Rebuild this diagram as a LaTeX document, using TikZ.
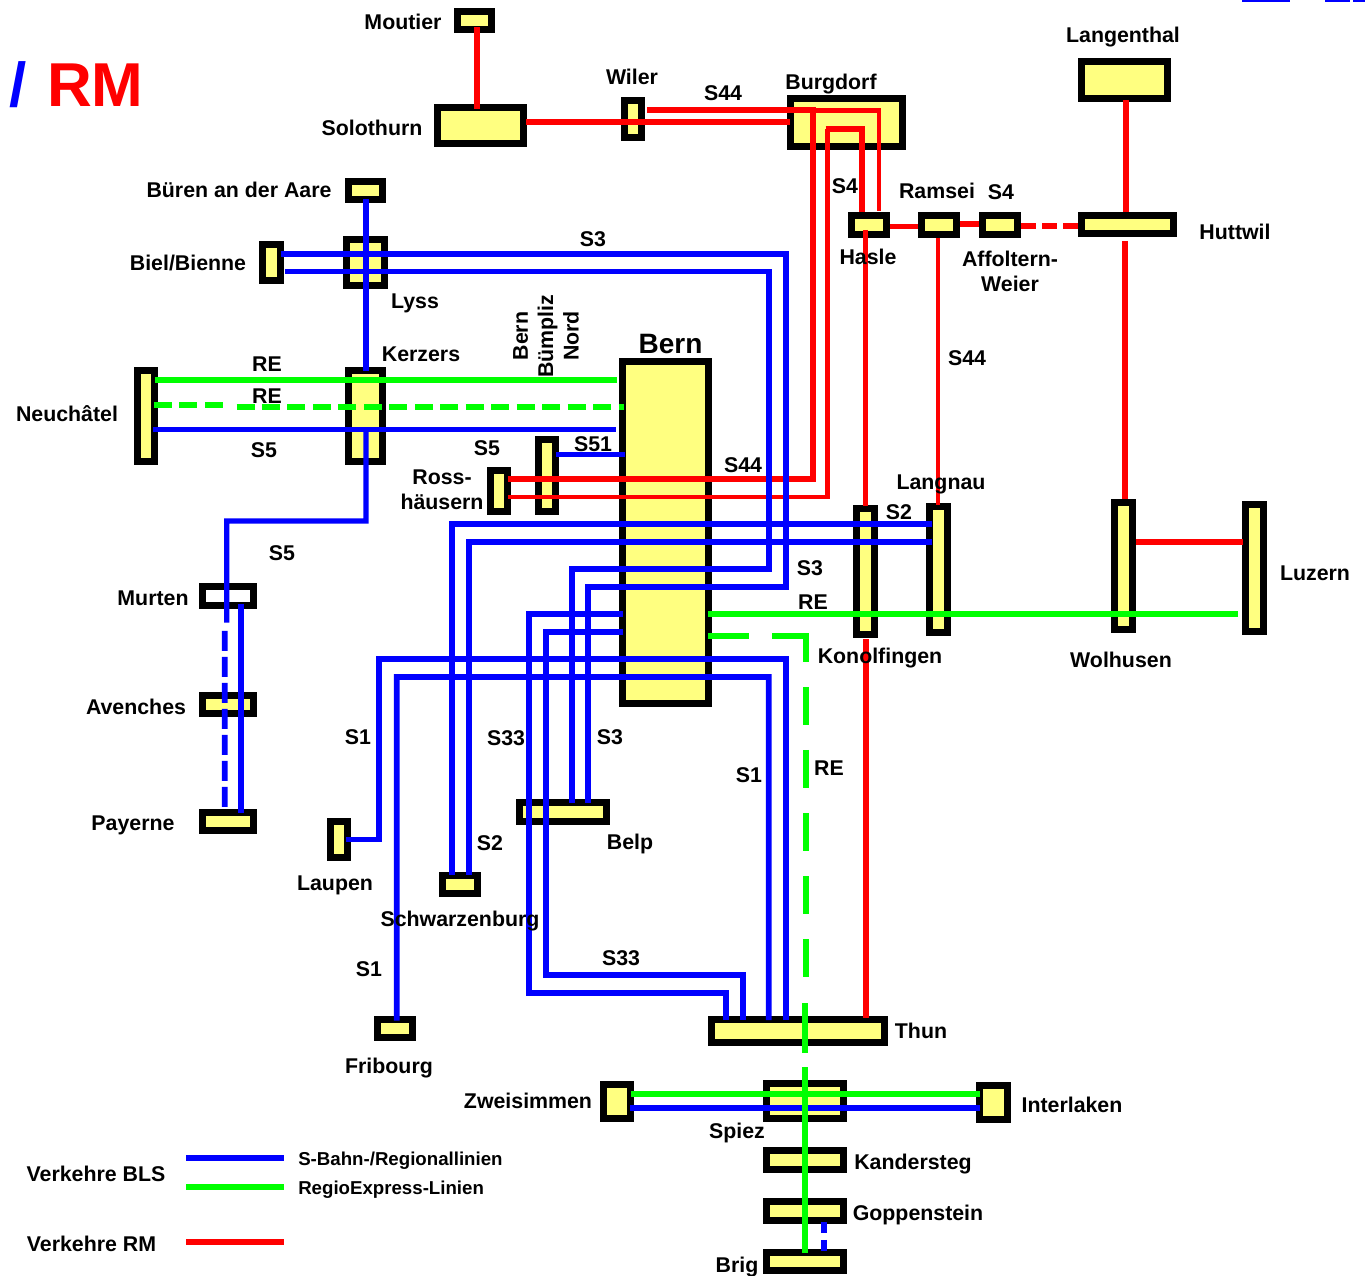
\documentclass[tikz,border=0pt]{standalone}
\usepackage{fontspec}
\setmainfont{Liberation Sans}
\usetikzlibrary{calc}
\definecolor{stnfill}{RGB}{255,255,128}
\tikzset{
  stn/.style 2 args={draw=black,line width=5.25pt,fill=stnfill,inner sep=0pt,
    minimum width={(#1-7)*0.75pt},minimum height={(#2-7)*0.75pt}},
  mlbl/.style={font=\bfseries\fontsize{16}{19}\selectfont,align=center,inner sep=0pt},
  lbl/.style={font=\bfseries\fontsize{16}{19}\selectfont,inner sep=0pt,text height=14.4pt,text depth=2.94pt},
  small/.style={font=\bfseries\fontsize{14}{17}\selectfont,inner sep=0pt,text height=12.6pt,text depth=2.58pt},
  redl/.style={draw=red,line width=4.5pt},
  redt/.style={draw=red,line width=3.4pt},
  bluel/.style={draw=blue,line width=4.4pt},
  bluet/.style={draw=blue,line width=4pt},
  greenl/.style={draw=green,line width=4.5pt},
}
\begin{document}
\begin{tikzpicture}[x=0.75pt,y=-0.75pt]
  \useasboundingbox (0,0) rectangle (1365,1276);

  % cut off heading at the top edge
  \fill[blue] (1242,0) rectangle (1290,2);
  \fill[blue] (1325,0) rectangle (1350,2);
  \fill[blue] (1353,0) rectangle (1365,2);

  % stations
  \node[stn={41}{25}] (moutier) at (474.5,20.5) {};
  \node[stn={92.5}{43}] (solothurn) at (480.25,125.5) {};
  \node[stn={24}{44}] (wiler) at (633,119) {};
  \node[stn={119}{55}] (burgdorf) at (846.5,122.5) {};
  \node[stn={92.5}{44}] (langenthal) at (1124.5,80) {};
  \node[stn={41}{25}] (bueren) at (365.5,190.5) {};
  \node[stn={25}{43}] (biel) at (271.5,262.5) {};
  \node[stn={45}{53}] (lyss) at (365.5,262.5) {};
  \node[stn={41.5}{26}] (hasle) at (869,225) {};
  \node[stn={42}{26}] (ramsei) at (938.5,225) {};
  \node[stn={42}{26}] (affoltern) at (1000,225) {};
  \node[stn={98.5}{25}] (huttwil) at (1127.5,224.5) {};
  \node[stn={24.5}{98}] (neuchatel) at (146,416) {};
  \node[stn={41}{98}] (kerzers) at (365.5,416) {};
  \node[stn={93}{349}] (bern) at (665.5,532.5) {};
  \node[stn={24}{79}] (buempliz) at (547,475.5) {};
  \node[stn={24.5}{48}] (rosshaeusern) at (498.75,491) {};
  \node[stn={25}{133}] (konolfingen) at (865.5,571.5) {};
  \node[stn={25}{133}] (langnau) at (938.5,569.5) {};
  \node[stn={25}{134}] (wolhusen) at (1123.5,566) {};
  \node[stn={25}{134}] (luzern) at (1254.5,568) {};
  \node[stn={58}{26},fill=white] (murten) at (228,596) {};
  \node[stn={58}{25}] (avenches) at (228,704.5) {};
  \node[stn={58}{25}] (payerne) at (228,821.5) {};
  \node[stn={24}{43}] (laupen) at (338.75,839.5) {};
  \node[stn={42}{25}] (schwarzenburg) at (460,884.5) {};
  \node[stn={94}{26}] (belp) at (563,812) {};
  \node[stn={42}{25}] (fribourg) at (395,1028.5) {};
  \node[stn={180}{30}] (thun) at (798,1031) {};
  \node[stn={34}{41}] (zweisimmen) at (617,1101.5) {};
  \node[stn={84}{42}] (spiez) at (805,1101) {};
  \node[stn={35}{41}] (interlaken) at (993.5,1102.5) {};
  \node[stn={84}{26}] (kandersteg) at (805,1160) {};
  \node[stn={84}{26}] (goppenstein) at (805,1211) {};
  \node[stn={84}{25}] (brig) at (805,1261.5) {};

  % RM lines
  \draw[redl] ($(moutier)+(2,7)$) -- ($(solothurn)+(-3.75,-16)$);
  \draw[redl] ($(solothurn)+(46,-3.5)$) -- ($(burgdorf)+(-57,-0.5)$);
  \draw[redl] ($(rosshaeusern)+(9,-12)$) -| (812.5,110.5) -- ($(wiler)+(14,-8.5)$);
  \draw[redt] (812.5,110.5) -| ($(hasle)+(10,-14)$);
  \draw[redt] ($(rosshaeusern)+(9,6)$) -| (827.5,129);
  \draw[redl,line width=3.8pt] (825.5,129) -| ($(hasle)+(-7,-13)$);
  \draw[redt] ($(hasle)+(-3.5,5)$) -- ($(konolfingen)+(0,-65)$);
  \draw[redl] ($(konolfingen)+(0,68)$) -- ($(thun)+(67.5,-13)$);
  \draw[redt] ($(hasle)+(21,1.7)$) -- ($(ramsei)+(-21,1.7)$);
  \draw[redl] ($(ramsei)+(21,-0.5)$) -- ($(affoltern)+(-21,-0.5)$);
  \draw[redl,dash pattern=on 11.25pt off 4.5pt] ($(affoltern)+(21,1.5)$) -- ($(huttwil)+(-49,2)$);
  \draw[redt] ($(ramsei)+(-0.7,13)$) -- ($(langnau)+(-0.7,-64)$);
  \draw[redl] ($(langenthal)+(1.5,20)$) -- ($(huttwil)+(-1.5,-12)$);
  \draw[redl] ($(huttwil)+(-2.5,16.5)$) -- ($(wolhusen)+(1.5,-67)$);
  \draw[redl,line width=3.8pt] ($(wolhusen)+(12,-24)$) -- ($(luzern)+(-12,-26)$);

  % BLS lines
  \draw[bluet] ($(bueren)+(0.5,9)$) -- ($(kerzers)+(0.5,-45)$);
  \draw[bluel] ($(biel)+(9,-8.5)$) -| (786,587) -| ($(belp)+(25,-9)$);
  \draw[bluel] ($(biel)+(13,9)$) -| (769,569) -| ($(belp)+(9,-9)$);
  \draw[bluel] ($(neuchatel)+(7,13.5)$) -- ($(bern)+(-50,-103)$);
  \draw[bluet] ($(kerzers)+(0.5,14)$) |- (226.7,521) -- ($(murten)+(-1.3,26.7)$);
  \draw[bluel,dash pattern=on 15pt off 4.5pt] (224.7,631) -- ($(payerne)+(-3.3,-9)$);
  \draw[bluel] ($(murten)+(12.7,8)$) -- ($(payerne)+(12.7,-9)$);
  \draw[bluet] ($(buempliz)+(9,-20.8)$) -- ($(bern)+(-41,-77.8)$);
  \draw[bluel] ($(langnau)+(-6.5,-45.5)$) -| ($(schwarzenburg)+(-8.3,-9.5)$);
  \draw[bluel] ($(langnau)+(-6.5,-27.8)$) -| ($(schwarzenburg)+(8.7,-9.5)$);
  \draw[bluel] ($(bern)+(-42.5,81.8)$) -| (528.7,992.7) -| ($(thun)+(-72,-11)$);
  \draw[bluel] ($(bern)+(-42.5,99.8)$) -| (545.7,974.7) -| ($(thun)+(-55,-11)$);
  \draw[bluel] ($(laupen)+(7,0)$) -| (379,659.3) -| ($(thun)+(-12,-11)$);
  \draw[bluel] ($(fribourg)+(1.7,-8)$) |- (768.7,677) -- ($(thun)+(-29.3,-11)$);
  \draw[bluel] ($(zweisimmen)+(13,6.8)$) -- ($(interlaken)+(-13.5,5.8)$);
  \draw[bluel,dash pattern=on 8.2pt off 5.2pt] ($(goppenstein)+(19.3,11)$) -- ($(brig)+(19.3,-11)$);

  % RE lines
  \draw[greenl] ($(neuchatel)+(9,-36)$) -- ($(bern)+(-48.5,-152.5)$);
  \draw[greenl,dash pattern=on 13.5pt off 5.6pt] ($(neuchatel)+(8,-11)$) -- ($(kerzers)+(-139,-11)$);
  \draw[greenl,dash pattern=on 13.5pt off 5.6pt] ($(kerzers)+(-129,-9)$) -- ($(bern)+(-42,-125.5)$);
  \draw[greenl] ($(bern)+(42.5,81.5)$) -- ($(luzern)+(-16.5,46)$);
  \draw[greenl,dash pattern=on 31pt off 17pt on 45pt] ($(bern)+(42.5,103.5)$) -| (806,662);
  \draw[greenl,dash pattern=on 28.5pt off 18.75pt] (806,687) -- (806,978);
  \draw[greenl] (805,1003) -- (805,1053);
  \draw[greenl] (805,1067) -- ($(brig)+(0,-9)$);
  \draw[greenl] ($(zweisimmen)+(14,-7.5)$) -- ($(interlaken)+(-13.5,-8.5)$);

  % legend
  \coordinate (legbs) at (186,1158);
  \coordinate (legbe) at (284,1158);
  \coordinate (leggs) at (186,1187);
  \coordinate (legge) at (284,1187);
  \coordinate (legrs) at (186,1242);
  \coordinate (legre) at (284,1242);
  \draw[bluel] (legbs) -- (legbe);
  \draw[greenl] (leggs) -- (legge);
  \draw[redl] (legrs) -- (legre);
  \node[lbl] (legbls) at (96,1173.5) {Verkehre BLS};
  \node[lbl] (legrm) at (91.5,1244) {Verkehre RM};
  \node[small,anchor=west] (legsbahn) at (298,1158.5) {S-Bahn-/Regionallinien};
  \node[small,anchor=west] (legrex) at (298,1187.5) {RegioExpress-Linien};

  % title
  \node[font=\bfseries\fontsize{46.5}{50}\selectfont,anchor=west,inner sep=0pt] (title) at (9,85) {\textcolor{blue}{/}\hspace{2.5pt} \textcolor{red}{RM}};
  \node[font=\bfseries\fontsize{21}{25}\selectfont,inner sep=0pt] (bernlbl) at (670.5,344) {Bern};
  \node[mlbl,rotate=90] (buemplizlbl) at (546,336) {Bern\\Bümpliz\\Nord};

  % station labels
  \node[lbl] (moutierlbl) at (403,22) {Moutier};
  \node[lbl] (solothurnlbl) at (372,128) {Solothurn};
  \node[lbl] (wilerlbl) at (632,77) {Wiler};
  \node[lbl] (burgdorflbl) at (831,82) {Burgdorf};
  \node[lbl] (langenthallbl) at (1123,35) {Langenthal};
  \node[lbl] (buerenlbl) at (239,190) {Büren an der Aare};
  \node[lbl] (biellbl) at (188,263) {Biel/Bienne};
  \node[lbl] (lysslbl) at (415,301) {Lyss};
  \node[lbl] (kerzerslbl) at (421,354) {Kerzers};
  \node[lbl] (neuchatellbl) at (67,414) {Neuchâtel};
  \node[mlbl] (rosslbl) at (442,490) {Ross-\\häusern};
  \node[lbl] (langnaulbl) at (941,482) {Langnau};
  \node[lbl] (ramseilbl) at (937,191) {Ramsei};
  \node[lbl] (huttwillbl) at (1235,232) {Huttwil};
  \node[lbl] (haslelbl) at (868,257) {Hasle};
  \node[mlbl] (affolternlbl) at (1010,271.5) {Affoltern-\\Weier};
  \node[lbl] (murtenlbl) at (153,598) {Murten};
  \node[lbl] (luzernlbl) at (1315,573) {Luzern};
  \node[lbl] (konolfingenlbl) at (880,656) {Konolfingen};
  \node[lbl] (wolhusenlbl) at (1121,660) {Wolhusen};
  \node[lbl] (avencheslbl) at (136,707) {Avenches};
  \node[lbl] (payernelbl) at (133,823) {Payerne};
  \node[lbl] (belplbl) at (630,842) {Belp};
  \node[lbl] (laupenlbl) at (335,883) {Laupen};
  \node[lbl] (schwarzenburglbl) at (460,919) {Schwarzenburg};
  \node[lbl] (thunlbl) at (921,1031) {Thun};
  \node[lbl] (fribourglbl) at (389,1066) {Fribourg};
  \node[lbl] (zweisimmenlbl) at (528,1101) {Zweisimmen};
  \node[lbl] (interlakenlbl) at (1072,1105) {Interlaken};
  \node[lbl] (spiezlbl) at (737,1131) {Spiez};
  \node[lbl] (kanderstegbl) at (913,1162) {Kandersteg};
  \node[lbl] (goppensteinlbl) at (918,1213) {Goppenstein};
  \node[lbl] (briglbl) at (737,1265) {Brig};

  % line labels
  \node[lbl] (sa) at (723,93) {S44};
  \node[lbl] (sb) at (593,239) {S3};
  \node[lbl] (sc) at (267,364) {RE};
  \node[lbl] (sd) at (267,396) {RE};
  \node[lbl] (se) at (264,450) {S5};
  \node[lbl] (sf) at (487,448) {S5};
  \node[lbl] (sg) at (593,444) {S51};
  \node[lbl] (sh) at (743,465) {S44};
  \node[lbl] (si) at (899,512) {S2};
  \node[lbl] (sj) at (845,186) {S4};
  \node[lbl] (sk) at (1001,192) {S4};
  \node[lbl] (sl) at (967,358) {S44};
  \node[lbl] (sm) at (282,553) {S5};
  \node[lbl] (sn) at (810,568) {S3};
  \node[lbl] (so) at (813,602) {RE};
  \node[lbl] (sp) at (358,737) {S1};
  \node[lbl] (sq) at (506,738) {S33};
  \node[lbl] (sr) at (610,737) {S3};
  \node[lbl] (ss) at (749,775) {S1};
  \node[lbl] (st) at (829,768) {RE};
  \node[lbl] (su) at (490,843) {S2};
  \node[lbl] (sv) at (369,969) {S1};
  \node[lbl] (sw) at (621,958) {S33};
\end{tikzpicture}
\end{document}
